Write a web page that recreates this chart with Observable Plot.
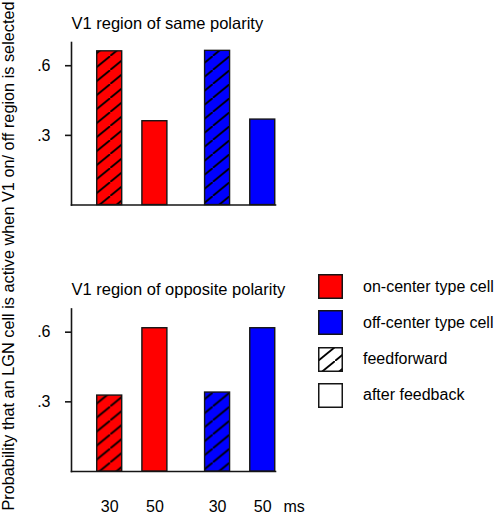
<!DOCTYPE html>
<html>
<head>
<meta charset="utf-8">
<script src="https://cdn.jsdelivr.net/npm/d3@7"></script>
<script src="https://cdn.jsdelivr.net/npm/@observablehq/plot@0.6"></script>
<style>
  body { margin: 0; background: #fff; font-family: "Liberation Sans", Arial, sans-serif; }
  #wrap { position: relative; width: 498px; height: 514px; overflow: hidden; }
  #chart { position: absolute; left: 0; top: 0; }
  #ylab { position: absolute; left: 0; top: 0; }
  #legend { position: absolute; left: 318px; top: 274px; }
  .item { display: flex; align-items: center; height: 25px; margin-bottom: 11.3px; font-size: 16px; color: #000; }
  .item svg { margin-right: 20px; flex: none; }
</style>
</head>
<body>
<div id="wrap">
  <div id="chart"></div>
  <svg id="ylab" width="30" height="514"></svg>
  <div id="legend"></div>
</div>
<script>
// ---- data ----
const panels = ["same", "opposite"];
const panelTitles = ["V1 region of same polarity", "V1 region of opposite polarity"];
const cellTypes = ["on", "off"];
const cellColors = ["#ff0000", "#0000ff"];
const times = ["30", "50"];              // 30 ms = feedforward (hatched), 50 ms = after feedback
const samePolarity = [0.662, 0.361, 0.664, 0.368];      // on-30, on-50, off-30, off-50
const oppositePolarity = [0.327, 0.617, 0.340, 0.617];  // on-30, on-50, off-30, off-50
const yTicks = [0.3, 0.6];
const timeUnit = "ms";
const yLabel = "Probability that an LGN cell is active when V1 on/ off region is selected";
const legendLabels = ["on-center type cell", "off-center type cell", "feedforward", "after feedback"];

// ---- table ----
const valuesByPanel = [samePolarity, oppositePolarity];
const rows = panels.flatMap((panel, pi) =>
  cellTypes.flatMap((type, ci) =>
    times.map((time, ti) => ({
      panel, type, time,
      key: type + "-" + time,
      value: valuesByPanel[pi][ci * times.length + ti]
    }))));
const keys = cellTypes.flatMap(t => times.map(s => t + "-" + s));

const ink = "#151515";
const groupShift = 8.75;
const fmtTick = d => d3.format(".1f")(d).replace(/^0/, "");

const marks = [
  Plot.frame({anchor: "left", stroke: ink, strokeWidth: 1.6}),
  Plot.frame({anchor: "bottom", stroke: ink, strokeWidth: 1.6}),
  Plot.axisY({ticks: yTicks, tickFormat: fmtTick, tickSize: 6, tickPadding: 15, fontSize: 16, label: null, stroke: ink, strokeWidth: 1.6})
];
cellTypes.forEach((type, ci) => {
  const dx = ci === 0 ? -groupShift : groupShift;
  const sub = rows.filter(d => d.type === type);
  marks.push(
    Plot.barY(sub, {x: "key", y: "value", fy: "panel", fill: cellColors[ci], dx}),
    Plot.barY(sub.filter(d => d.time === times[0]), {x: "key", y: "value", fy: "panel", fill: "url(#hatch)", dx}),
    Plot.barY(sub, {x: "key", y: "value", fy: "panel", fill: "none", stroke: ink, strokeWidth: 1.4, dx}),
    Plot.axisX(keys.filter(k => k.startsWith(type + "-")), {
      tickFormat: k => k.split("-")[1], tickSize: 0, tickPadding: 29, fontSize: 16, label: null, dx
    })
  );
});
marks.push(
  Plot.text(panels, {fy: d => d, text: (d, i) => panelTitles[i], frameAnchor: "top-left",
    textAnchor: "start", lineAnchor: "middle", dy: -19, fontSize: 16.5}),
  Plot.text([timeUnit], {fy: () => panels[1], text: d => d, frameAnchor: "bottom-right",
    textAnchor: "start", lineAnchor: "top", dx: 8, dy: 29, fontSize: 16})
);

const chart = Plot.plot({
  width: 498,
  height: 514,
  marginLeft: 71,
  marginRight: 223,
  marginTop: 42,
  marginBottom: 43,
  style: {fontFamily: "'Liberation Sans', Arial, sans-serif", fontSize: "16px", background: "#fff", color: "#000", overflow: "visible"},
  x: {type: "band", domain: keys, paddingInner: 0.447, paddingOuter: 0.481, align: 0.793, round: false},
  y: {domain: [0, 0.7]},
  fy: {domain: panels, paddingInner: 0.39, paddingOuter: 0, round: false, axis: null},
  marks
});

// hatch pattern (lines rising to the right, ~14px apart vertically)
const svg = d3.select(chart);
const defs = svg.insert("defs", ":first-child");
const pat = defs.append("pattern").attr("id", "hatch").attr("patternUnits", "userSpaceOnUse")
  .attr("width", 17).attr("height", 14);
pat.append("path").attr("d", "M-3.4,16.8 L20.4,-2.8")
  .attr("stroke", "#000").attr("stroke-width", 1.8).attr("fill", "none");

document.getElementById("chart").appendChild(chart);

// rotated y label
d3.select("#ylab").append("text")
  .attr("transform", "translate(13.5,256) rotate(-90)")
  .attr("text-anchor", "middle")
  .attr("font-size", 16.3)
  .attr("font-family", "'Liberation Sans', Arial, sans-serif")
  .attr("fill", "#000")
  .text(yLabel);

// legend
const swatchFills = [cellColors[0], cellColors[1], "url(#hatch)", "#fff"];
const items = d3.select("#legend").selectAll("div").data(legendLabels).join("div").attr("class", "item");
items.each(function(label, i) {
  const s = d3.select(this).append("svg").attr("width", 25).attr("height", 25);
  s.append("rect").attr("x", 0.75).attr("y", 0.75).attr("width", 23.5).attr("height", 23.5).attr("fill", "#fff");
  s.append("rect").attr("x", 0.75).attr("y", 0.75).attr("width", 23.5).attr("height", 23.5)
    .attr("fill", swatchFills[i]).attr("stroke", ink).attr("stroke-width", 1.5);
  d3.select(this).append("span").text(label);
});
</script>
</body>
</html>
